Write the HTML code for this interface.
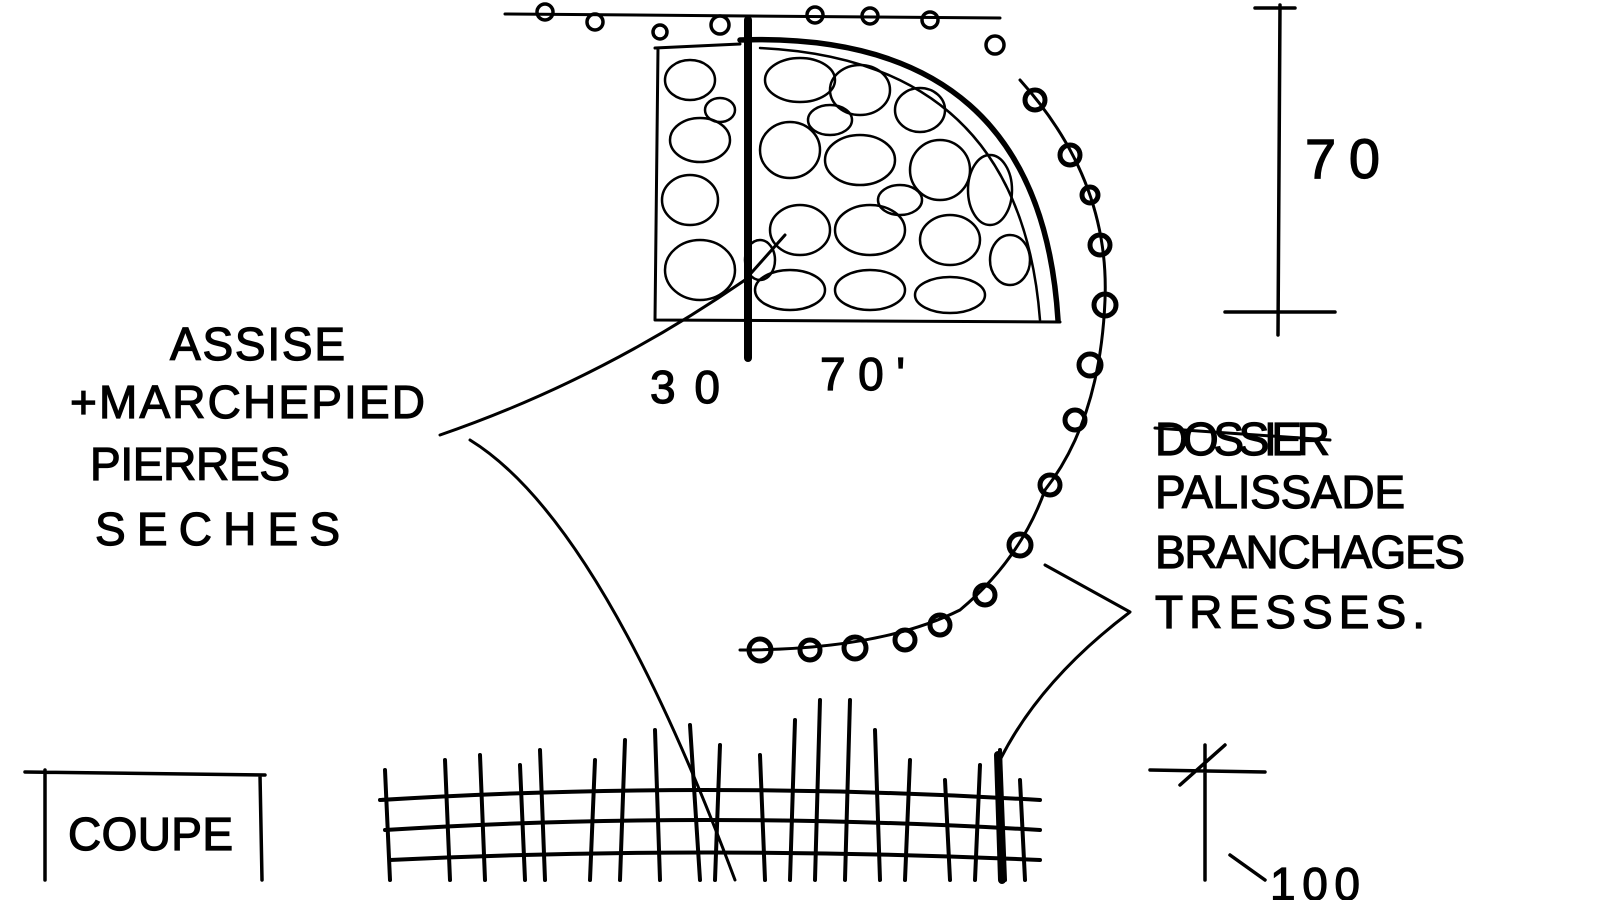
<!DOCTYPE html>
<html><head><meta charset="utf-8"><style>
html,body{margin:0;padding:0;background:#fff;width:1600px;height:900px;overflow:hidden}
svg{display:block}
text{font-family:"Liberation Sans",sans-serif;fill:#000;stroke:#000;stroke-width:1.2}
</style></head><body>
<svg width="1600" height="900" viewBox="0 0 1600 900" xmlns="http://www.w3.org/2000/svg">
<g fill="none" stroke="#000" stroke-linecap="round" stroke-linejoin="round">
<path d="M505 14 L1000 18" stroke-width="3"/>
<g stroke-width="3.5">
<circle cx="545" cy="12" r="8"/><circle cx="595" cy="22" r="8"/><circle cx="660" cy="32" r="7"/>
<circle cx="720" cy="25" r="9"/><circle cx="815" cy="15" r="8"/><circle cx="870" cy="16" r="8"/><circle cx="930" cy="20" r="8"/><circle cx="995" cy="45" r="9"/>
</g>
<path d="M655 48 L740 44 M658 48 L655 320 L1060 322" stroke-width="3"/>
<path d="M748 20 L748 358" stroke-width="8"/>
<path d="M740 40 Q1040 30 1058 320" stroke-width="5.5"/>
<path d="M760 48 Q1020 60 1040 320" stroke-width="2.5"/>
<g stroke-width="2.5">
<ellipse cx="690" cy="80" rx="25" ry="20"/><ellipse cx="700" cy="140" rx="30" ry="22"/><ellipse cx="690" cy="200" rx="28" ry="25"/><ellipse cx="700" cy="270" rx="35" ry="30"/>
<ellipse cx="800" cy="80" rx="35" ry="22"/><ellipse cx="860" cy="90" rx="30" ry="25"/><ellipse cx="920" cy="110" rx="25" ry="22"/>
<ellipse cx="790" cy="150" rx="30" ry="28"/><ellipse cx="860" cy="160" rx="35" ry="25"/><ellipse cx="940" cy="170" rx="30" ry="30"/><ellipse cx="990" cy="190" rx="22" ry="35"/>
<ellipse cx="800" cy="230" rx="30" ry="25"/><ellipse cx="870" cy="230" rx="35" ry="25"/><ellipse cx="950" cy="240" rx="30" ry="25"/><ellipse cx="1010" cy="260" rx="20" ry="25"/>
<ellipse cx="790" cy="290" rx="35" ry="20"/><ellipse cx="870" cy="290" rx="35" ry="20"/><ellipse cx="950" cy="295" rx="35" ry="18"/>
<ellipse cx="830" cy="120" rx="22" ry="15"/><ellipse cx="900" cy="200" rx="22" ry="15"/><ellipse cx="720" cy="110" rx="15" ry="12"/><ellipse cx="760" cy="260" rx="15" ry="20"/>
</g>
<path d="M1020 80 Q1110 180 1105 300 Q1100 420 1045 490 Q1020 560 960 610 Q880 650 740 650" stroke-width="3"/>
<g stroke-width="5">
<circle cx="1035" cy="100" r="10"/><circle cx="1070" cy="155" r="10"/><circle cx="1090" cy="195" r="8"/><circle cx="1100" cy="245" r="10"/><circle cx="1105" cy="305" r="11"/>
<circle cx="1090" cy="365" r="11"/><circle cx="1075" cy="420" r="10"/><circle cx="1050" cy="485" r="10"/><circle cx="1020" cy="545" r="11"/><circle cx="985" cy="595" r="10"/>
<circle cx="940" cy="625" r="10"/><circle cx="905" cy="640" r="10"/><circle cx="855" cy="648" r="11"/><circle cx="810" cy="650" r="10"/><circle cx="760" cy="650" r="11"/>
</g>
<path d="M1280 5 L1278 335 M1255 8 L1295 8 M1225 312 L1335 312" stroke-width="3.5"/>
<path d="M785 235 L745 280 Q600 380 440 435 M470 440 Q600 520 735 880" stroke-width="3"/>
<path d="M1045 565 L1130 612 Q1040 680 1000 760" stroke-width="3"/>
<path d="M25 772 L265 775 M45 770 L45 880 M260 775 L262 880" stroke-width="3.5"/>
<g stroke-width="4">
<path d="M380 800 Q700 780 1040 800 M385 830 Q700 810 1040 830 M390 860 Q700 845 1040 860"/>
<path d="M385 770 L390 880 M445 760 L450 880 M480 755 L485 880 M520 765 L525 880 M540 750 L545 880 M595 760 L590 880 M625 740 L620 880 M655 730 L660 880 M690 725 L700 880 M720 745 L715 880 M760 755 L765 880 M795 720 L790 880 M820 700 L815 880 M850 700 L845 880 M875 730 L880 880 M910 760 L905 880 M945 780 L950 880 M980 765 L975 880 M1000 750 L1005 880 M1020 780 L1025 880"/>
<path d="M998 755 L1002 880" stroke-width="8"/>
</g>
<path d="M1150 770 L1265 772 M1205 745 L1205 880 M1180 785 L1225 745 M1230 855 L1265 880" stroke-width="3.5"/>
<path d="M1155 428 L1330 440" stroke-width="3"/>
</g>
<g font-size="46">
<text x="170" y="360" textLength="175">ASSISE</text>
<text x="70" y="418" textLength="355">+MARCHEPIED</text>
<text x="90" y="480" textLength="200">PIERRES</text>
<text x="95" y="545" textLength="245">SECHES</text>
<text x="1155" y="455" textLength="175">DOSSIER</text>
<text x="1155" y="508" textLength="250">PALISSADE</text>
<text x="1155" y="568" textLength="310">BRANCHAGES</text>
<text x="1155" y="628" textLength="270">TRESSES.</text>
<text x="650" y="403" textLength="70">30</text>
<text x="820" y="390" textLength="85">70'</text>
<text x="1305" y="178" textLength="75" font-size="56">70</text>
<text x="68" y="850" textLength="165">COUPE</text>
<text x="1270" y="900" textLength="90">100</text>
</g>
</svg>
</body></html>
